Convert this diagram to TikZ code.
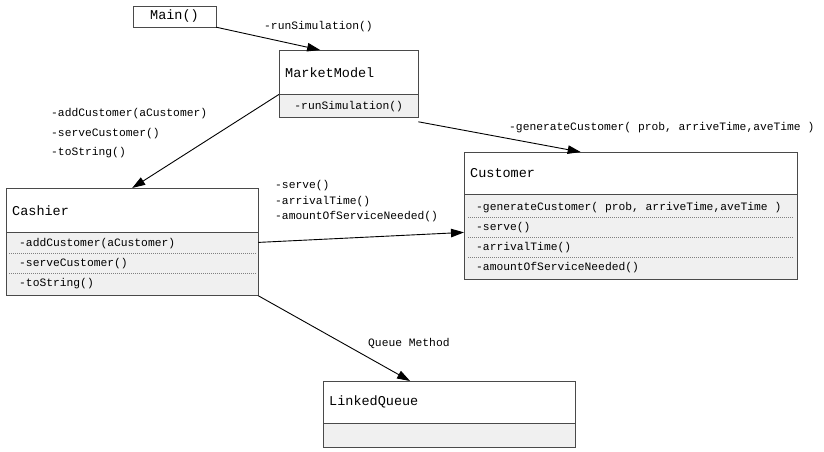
\documentclass[tikz,border=0pt]{standalone}
\usepackage{fontspec}
\setmonofont{Liberation Mono}
\usepackage{tikz}
\usetikzlibrary{arrows.meta, positioning, calc}
\usepackage{xcolor}
\definecolor{opsgray}{HTML}{F0F0F0}
\definecolor{boxline}{HTML}{4A4A4A}
\newcommand{\clsfont}{\ttfamily\fontsize{13.5}{16}\selectfont}
\newcommand{\mthfont}{\ttfamily\fontsize{11.3}{13}\selectfont}

\tikzset{
  clshead/.style={draw=boxline, fill=white, anchor=north west, inner xsep=6pt,
    inner ysep=0pt, align=left, font=\clsfont},
  clsops/.style={draw=boxline, fill=opsgray, anchor=north west, inner sep=0pt,
    font=\mthfont},
  mth/.style={anchor=west, inner sep=0pt, font=\mthfont},
  sep/.style={draw=gray, line width=0.8pt, dash pattern=on 1pt off 1pt},
  arr/.style={-{Triangle[length=13pt, width=8.5pt]}, line width=0.9pt}
}

\begin{document}
\begin{tikzpicture}[x=1pt, y=-1pt]
  \useasboundingbox (0,0) rectangle (824,452);

  % class boxes
  \node[draw=boxline, minimum width=83pt, minimum height=21pt, inner sep=0pt, font=\clsfont]
    (main) at (174.5,16.5) {Main()};

  \node[clshead, text width=127pt, minimum height=44pt] (market) at (279,50) {MarketModel};
  \node[clsops, minimum width=139pt, minimum height=23pt] (marketops) at (market.south west) {-runSimulation()};

  \node[clshead, text width=240pt, minimum height=44pt] (cashier) at (6,188) {Cashier};
  \node[clsops, minimum width=252pt, minimum height=63pt] (cashierops) at (cashier.south west) {};
  \foreach \m [count=\i] in {-addCustomer(aCustomer), -serveCustomer(), -toString()} {
    \node[mth] (cash-m\i) at ($(cashierops.north west)+(13,{11+20.3*(\i-1)})$) {\m};
  }
  \foreach \yy in {21,41} {
    \draw[sep] ($(cashierops.north west)+(3,\yy)$) -- ($(cashierops.north east)+(-3,\yy)$);
  }

  \node[clshead, text width=321pt, minimum height=42pt] (customer) at (464,152) {Customer};
  \node[clsops, minimum width=333pt, minimum height=85pt] (customerops) at (customer.south west) {};
  \foreach \m [count=\i] in {{-generateCustomer( prob, arriveTime,aveTime )}, -serve(), -arrivalTime(), -amountOfServiceNeeded()} {
    \node[mth] (cust-m\i) at ($(customerops.north west)+(12,{13.5+20*(\i-1)})$) {\m};
  }
  \foreach \yy in {23,43,63} {
    \draw[sep] ($(customerops.north west)+(4,\yy)$) -- ($(customerops.north east)+(-4,\yy)$);
  }

  \node[clshead, text width=240pt, minimum height=42pt] (queue) at (323,381) {LinkedQueue};
  \node[clsops, minimum width=252pt, minimum height=24pt] (queueops) at (queue.south west) {};

  % connectors
  \draw[arr] (main.south east) -- ($(market.north west)!0.295!(market.north east)$);
  \draw[arr] (market.south west) -- (cashier.north);
  \draw[arr] ($(marketops.south east)+(0,4)$) -- ($(customer.north west)!0.35!(customer.north east)$);
  \draw[arr] ($(cashierops.north east)+(0,10)$) -- ($(customerops.north west)+(0,38)$);
  \draw[arr] (cashierops.south east) -- ($(queue.north west)!0.345!(queue.north east)$);

  % labels on the connectors
  \node[mth] (lbl-run) at (264,27) {-runSimulation()};
  \foreach \m [count=\i] in {-addCustomer(aCustomer), -serveCustomer(), -toString()} {
    \node[mth] (lbl-cash\i) at (51,{114+19.5*(\i-1)}) {\m};
  }
  \node[mth] (lbl-gen) at (509,128) {-generateCustomer( prob, arriveTime,aveTime )};
  \foreach \m [count=\i] in {-serve(), -arrivalTime(), -amountOfServiceNeeded()} {
    \node[mth] (lbl-cust\i) at (275,{186+15.5*(\i-1)}) {\m};
  }
  \node[mth] (lbl-queue) at (368,343) {Queue Method};
\end{tikzpicture}
\end{document}
